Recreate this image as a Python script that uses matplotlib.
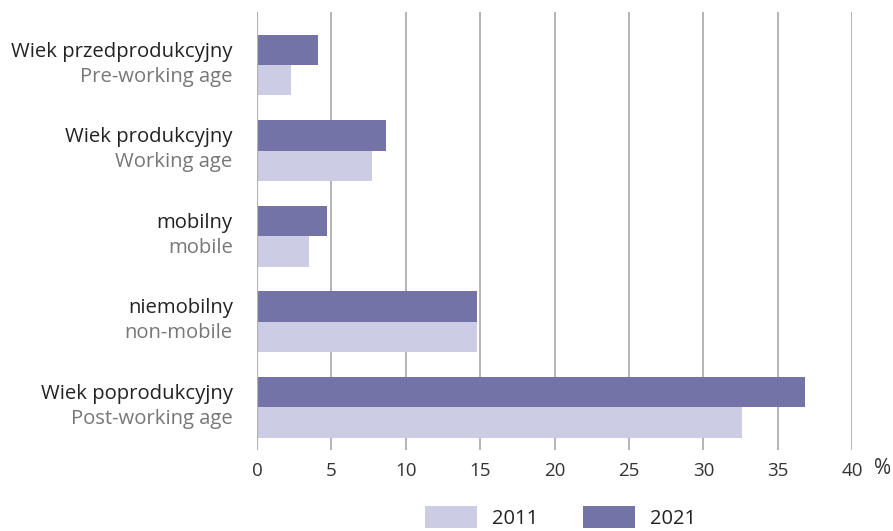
import numpy as np
import matplotlib
matplotlib.use("Agg")
from matplotlib import pyplot as plt

# share of people in each age group, %
labels_pl = ["Wiek przedprodukcyjny", "Wiek produkcyjny", "mobilny",
             "niemobilny", "Wiek poprodukcyjny"]
labels_en = ["Pre-working age", "Working age", "mobile",
             "non-mobile", "Post-working age"]
values_2011 = [2.3, 7.7, 3.5, 14.8, 32.6]
values_2021 = [4.1, 8.7, 4.7, 14.8, 36.8]
x_ticks = [0, 5, 10, 15, 20, 25, 30, 35, 40]

color_2011 = "#cccce4"
color_2021 = "#7373a8"

plt.rcParams["font.family"] = ["Open Sans", "DejaVu Sans"]

fig = plt.figure(figsize=(8.93, 5.31), dpi=100)
ax = fig.add_axes([257 / 893, 1 - 450 / 531, (852.3 - 257) / 893, (450 - 12) / 531])

pos = np.arange(len(labels_pl))
h = 0.355
b21 = ax.barh(pos - h / 2, values_2021, height=h, color=color_2021, zorder=2)
b11 = ax.barh(pos + h / 2, values_2011, height=h, color=color_2011, zorder=2)

ax.set_xlim(0, 40)
ax.set_ylim(4.5, -0.62)
ax.set_xticks(x_ticks)
ax.set_xticklabels([str(t) for t in x_ticks])
ax.tick_params(axis="x", length=0, pad=9, labelsize=13.5, labelcolor="#333333")
ax.tick_params(axis="y", length=0, labelleft=False)
ax.set_yticks([])
for s in ax.spines.values():
    s.set_visible(False)
ax.grid(axis="x", color="#b3b3b3", linewidth=1.4, zorder=1)
ax.axvline(0, color="#b3b3b3", linewidth=1.6, zorder=3)

ax.annotate("%", xy=(1, 0), xycoords="axes fraction",
            xytext=(22, -13.5), textcoords="offset points",
            ha="center", va="center", fontsize=15, color="#333333")

# two-line category labels: Polish on top, English below
for i, (pl, en) in enumerate(zip(labels_pl, labels_en)):
    ax.annotate(pl, xy=(0, i), xycoords=("axes fraction", "data"),
                xytext=(-17.5, 9.5), textcoords="offset points",
                ha="right", va="center", fontsize=14.6, color="#222222")
    ax.annotate(en, xy=(0, i), xycoords=("axes fraction", "data"),
                xytext=(-17.5, -8.5), textcoords="offset points",
                ha="right", va="center", fontsize=14.6, color="#777777")

fig.legend([b11, b21], ["2011", "2021"], loc="upper left",
           bbox_to_anchor=(425 / 893, 1 - 506 / 531), ncol=2, frameon=False,
           fontsize=14.5, handlelength=2.6, handleheight=1.3,
           handletextpad=0.75, columnspacing=2.2, borderpad=0,
           borderaxespad=0, labelcolor="#222222")

fig.savefig("out.png", dpi=100)
